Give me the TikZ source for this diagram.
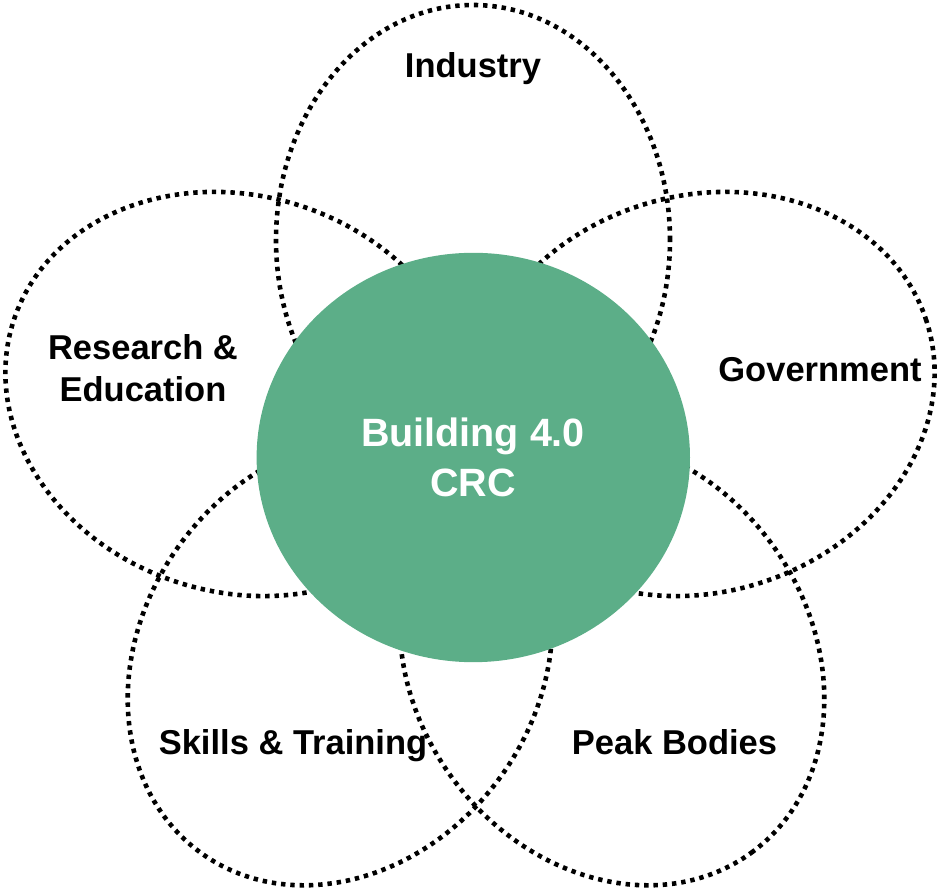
\documentclass[tikz,border=0pt]{standalone}
\usepackage{fontspec}
\setmainfont{Liberation Sans}
\definecolor{crcgreen}{RGB}{92,174,136}
\begin{document}
\begin{tikzpicture}[x=1pt,y=1pt,
  petal/.style={draw=black, line width=4.6pt, dash pattern=on 4.4pt off 4.9pt},
  lab/.style={font=\fontsize{34.5}{42}\selectfont\bfseries, text=black, inner sep=0pt, align=center, anchor=base},
  hub/.style={font=\fontsize{39.5}{50}\selectfont\bfseries, text=white, inner sep=0pt, align=center, anchor=base}]
\useasboundingbox (0,0) rectangle (938,889);
% petals
\draw[petal] (473,649) ellipse [x radius=197, y radius=235];
\draw[petal, shift={(239,495)}, rotate=-18] (0,0) ellipse [x radius=237, y radius=198];
\draw[petal, shift={(701,495)}, rotate=18] (0,0) ellipse [x radius=237, y radius=198];
\draw[petal, shift={(340,228)}, rotate=54] (0,0) ellipse [x radius=237, y radius=198];
\draw[petal, shift={(612,228)}, rotate=-54] (0,0) ellipse [x radius=237, y radius=198];
% hub
\fill[crcgreen] (473.3,431.5) ellipse [x radius=216.7, y radius=204.7];
% labels
\node[lab] (industry) at (473,811) {Industry};
\node[lab] (research) at (143,487) {Research \&\\Education};
\node[lab] (government) at (820,507) {Government};
\node[lab] (skills) at (293,134) {Skills \& Training};
\node[lab] (peak) at (674.5,134) {Peak Bodies};
\node[hub] (crc) at (473,392) {Building 4.0\\CRC};
\end{tikzpicture}
\end{document}
